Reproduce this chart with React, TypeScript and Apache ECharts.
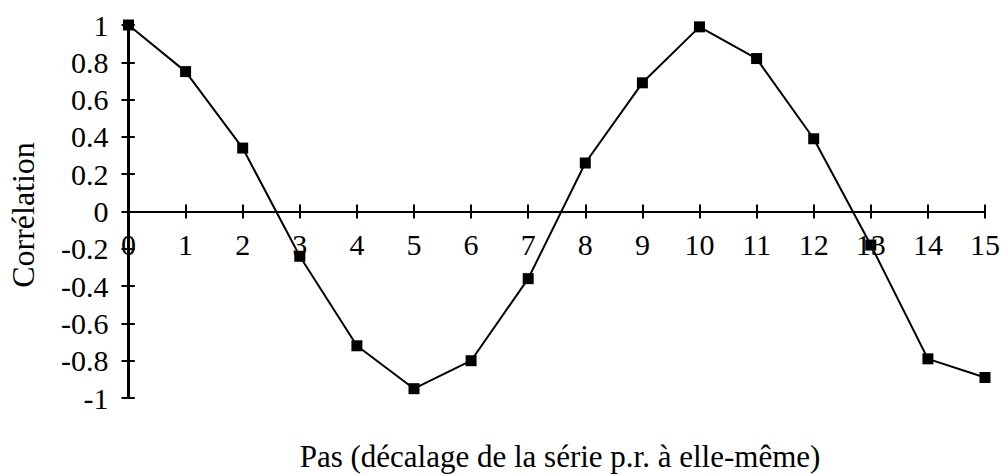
import React, { useEffect, useRef } from "react";
import * as echarts from "echarts";

const lags = [0, 1, 2, 3, 4, 5, 6, 7, 8, 9, 10, 11, 12, 13, 14, 15];
const correlation = [1.0, 0.75, 0.34, -0.24, -0.72, -0.95, -0.8, -0.36, 0.26, 0.69, 0.99, 0.82, 0.39, -0.18, -0.79, -0.89];
const xTitle = "Pas (décalage de la série p.r. à elle-même)";
const yTitle = "Corrélation";

const FONT = "'Liberation Serif', 'Times New Roman', serif";
const W = 1003;
const H = 474;

export default function App() {
  const ref = useRef<HTMLDivElement>(null);
  useEffect(() => {
    if (!ref.current) return;
    const chart = echarts.init(ref.current, null, { renderer: "svg" });
    const gTop = 25;
    const gBottom = 76;
    const gLeft = 128.5;
    const gRight = 17.3;
    const half = (H - gTop - gBottom) / 2;
    const gridW = W - gLeft - gRight;
    const xBase = {
      type: "value" as const,
      min: 0,
      max: 15,
      interval: 1,
      splitLine: { show: false },
      axisLine: { onZero: false, lineStyle: { color: "#000", width: 2 } },
      axisTick: { show: true, length: 7, lineStyle: { color: "#000", width: 2 } },
    };
    const yBase = {
      type: "value" as const,
      min: -1,
      max: 1,
      interval: 0.2,
      splitLine: { show: false },
      axisLine: { onZero: false, lineStyle: { color: "#000", width: 2 } },
      axisTick: { show: true, length: 7, lineStyle: { color: "#000", width: 2 } },
    };
    chart.setOption({
      animation: false,
      backgroundColor: "#fff",
      grid: { left: gLeft, right: gRight, top: gTop, bottom: gBottom },
      xAxis: [
        {
          ...xBase,
          position: "bottom",
          offset: -half,
          axisLabel: {
            show: true,
            interval: 0,
            color: "#000",
            fontFamily: FONT,
            fontSize: 30,
            margin: 18,
            showMinLabel: true,
            showMaxLabel: true,
            hideOverlap: false,
          },
        },
        {
          ...xBase,
          position: "top",
          offset: -half,
          axisLabel: { show: false },
        },
      ],
      yAxis: [
        {
          ...yBase,
          position: "left",
          axisLabel: {
            show: true,
            interval: 0,
            color: "#000",
            fontFamily: FONT,
            fontSize: 30,
            margin: 20,
            lineHeight: 26,
            padding: [0, 0, 8, 0],
            showMinLabel: true,
            showMaxLabel: true,
            hideOverlap: false,
          },
        },
        {
          ...yBase,
          position: "right",
          offset: -gridW,
          axisLabel: { show: false },
        },
      ],
      graphic: [
        {
          type: "text",
          x: 560,
          y: 456,
          style: {
            text: xTitle,
            fill: "#000",
            font: `31px ${FONT}`,
            align: "center",
            verticalAlign: "middle",
          },
        },
        {
          type: "text",
          x: 23,
          y: 215,
          rotation: Math.PI / 2,
          style: {
            text: yTitle,
            fill: "#000",
            font: `32px ${FONT}`,
            align: "center",
            verticalAlign: "middle",
          },
        },
      ],
      series: [
        {
          type: "line",
          xAxisIndex: 0,
          yAxisIndex: 0,
          data: lags.map((x, i) => [x, correlation[i]]),
          symbol: "rect",
          symbolSize: 11,
          lineStyle: { color: "#000", width: 2 },
          itemStyle: { color: "#000" },
          z: 5,
        },
      ],
    });
    return () => chart.dispose();
  }, []);
  return (
    <div
      ref={ref}
      style={{ position: "absolute", left: 0, top: 0, width: W, height: H }}
    />
  );
}
